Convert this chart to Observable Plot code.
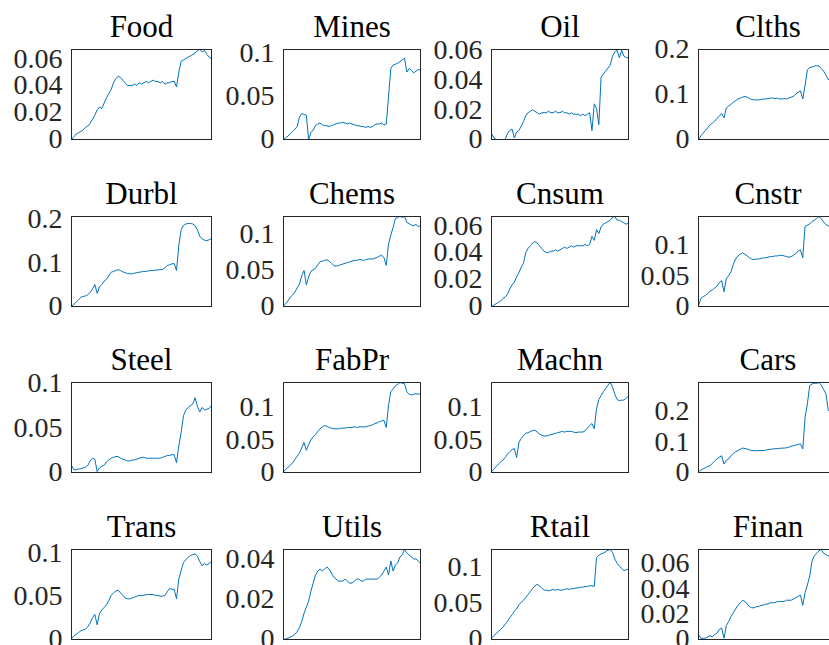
<!DOCTYPE html>
<html>
<head>
<meta charset="utf-8">
<script src="https://cdn.jsdelivr.net/npm/d3@7"></script>
<script src="https://cdn.jsdelivr.net/npm/@observablehq/plot@0.6"></script>
<style>
  html, body { margin: 0; padding: 0; background: #fff; }
  body { width: 829px; height: 645px; overflow: hidden; position: relative; }
  #fig { position: absolute; left: 0; top: 0; width: 900px; height: 700px; }
  .panel { position: absolute; }
  .panel svg { overflow: visible; max-width: none !important; display: block; }
</style>
</head>
<body>
<div id="fig"></div>
<script>
const industries = ["Food","Mines","Oil","Clths","Durbl","Chems","Cnsum","Cnstr","Steel","FabPr","Machn","Cars","Trans","Utils","Rtail","Finan"];

const food  = [0,0.002,0.004,0.005,0.006,0.007,0.009,0.010,0.012,0.015,0.018,0.022,0.024,0.023,0.027,0.031,0.034,0.037,0.042,0.045,0.047,0.046,0.044,0.042,0.040,0.040,0.040,0.041,0.040,0.042,0.041,0.042,0.043,0.042,0.043,0.044,0.043,0.043,0.042,0.043,0.041,0.042,0.042,0.043,0.043,0.039,0.050,0.058,0.059,0.060,0.061,0.062,0.063,0.064,0.066,0.0667,0.065,0.066,0.063,0.061,0.060];
const mines = [0,0.002,0.004,0.007,0.009,0.012,0.015,0.026,0.030,0.029,0.028,0.000,0.008,0.011,0.016,0.018,0.019,0.017,0.016,0.016,0.015,0.016,0.017,0.018,0.019,0.019,0.020,0.019,0.018,0.019,0.018,0.017,0.016,0.016,0.015,0.015,0.014,0.015,0.014,0.015,0.017,0.018,0.018,0.019,0.017,0.018,0.050,0.082,0.086,0.087,0.088,0.090,0.092,0.094,0.078,0.082,0.080,0.077,0.079,0.081,0.080];
const oil   = [0.004,0.001,0.000,0.000,0.000,0.000,0.000,0.004,0.006,0.007,0.001,0.005,0.006,0.009,0.012,0.016,0.018,0.019,0.020,0.019,0.018,0.017,0.018,0.018,0.018,0.019,0.018,0.018,0.019,0.018,0.018,0.019,0.018,0.018,0.017,0.018,0.017,0.017,0.017,0.016,0.017,0.016,0.017,0.018,0.006,0.024,0.021,0.010,0.042,0.044,0.046,0.048,0.050,0.056,0.059,0.060,0.055,0.060,0.056,0.055,0.055];
const clths = [0,0.008,0.014,0.020,0.026,0.033,0.036,0.041,0.047,0.052,0.058,0.048,0.070,0.074,0.078,0.083,0.086,0.090,0.092,0.094,0.096,0.094,0.091,0.089,0.088,0.088,0.088,0.089,0.090,0.090,0.091,0.092,0.092,0.091,0.092,0.090,0.090,0.091,0.090,0.092,0.094,0.096,0.101,0.105,0.108,0.090,0.120,0.155,0.160,0.161,0.163,0.164,0.163,0.158,0.152,0.143,0.133,0.138,0.135,0.132,0.130];
const durbl = [0,0.005,0.010,0.015,0.021,0.023,0.024,0.027,0.032,0.040,0.050,0.030,0.045,0.050,0.058,0.062,0.070,0.078,0.080,0.082,0.084,0.082,0.079,0.077,0.075,0.075,0.074,0.076,0.077,0.078,0.079,0.080,0.080,0.081,0.082,0.082,0.083,0.083,0.084,0.084,0.088,0.093,0.095,0.097,0.098,0.082,0.140,0.175,0.185,0.188,0.189,0.189,0.188,0.184,0.174,0.160,0.154,0.151,0.150,0.152,0.155];
const chems = [0.001,0.004,0.008,0.013,0.016,0.020,0.026,0.031,0.043,0.050,0.030,0.041,0.049,0.051,0.053,0.058,0.062,0.063,0.064,0.065,0.063,0.060,0.057,0.056,0.057,0.058,0.059,0.060,0.061,0.062,0.063,0.064,0.064,0.065,0.065,0.064,0.065,0.066,0.066,0.066,0.067,0.068,0.070,0.071,0.068,0.057,0.087,0.099,0.110,0.122,0.124,0.125,0.124,0.125,0.117,0.115,0.113,0.112,0.114,0.111,0.112];
const cnsum = [0,0.001,0.002,0.003,0.004,0.006,0.007,0.009,0.013,0.016,0.018,0.022,0.025,0.029,0.032,0.040,0.043,0.045,0.047,0.048,0.047,0.045,0.043,0.041,0.040,0.040,0.041,0.041,0.042,0.041,0.042,0.043,0.044,0.043,0.044,0.045,0.044,0.045,0.045,0.045,0.045,0.046,0.045,0.046,0.052,0.049,0.057,0.054,0.059,0.061,0.062,0.063,0.064,0.066,0.0667,0.064,0.064,0.063,0.062,0.061,0.062];
const cnstr = [0.001,0.013,0.016,0.018,0.021,0.025,0.027,0.030,0.033,0.039,0.042,0.024,0.045,0.050,0.056,0.068,0.077,0.082,0.085,0.087,0.085,0.082,0.079,0.077,0.076,0.077,0.077,0.078,0.079,0.079,0.080,0.081,0.081,0.082,0.082,0.083,0.083,0.082,0.081,0.080,0.081,0.083,0.086,0.090,0.092,0.079,0.130,0.132,0.134,0.138,0.140,0.143,0.146,0.142,0.137,0.133,0.131,0.130,0.128,0.129,0.127];
const steel = [0.008,0.003,0.003,0.004,0.004,0.005,0.006,0.008,0.013,0.016,0.015,0.001,0.005,0.007,0.008,0.012,0.014,0.016,0.017,0.018,0.018,0.016,0.015,0.014,0.013,0.013,0.014,0.014,0.015,0.016,0.017,0.017,0.016,0.016,0.016,0.016,0.016,0.016,0.016,0.017,0.018,0.019,0.019,0.020,0.020,0.011,0.030,0.045,0.064,0.070,0.073,0.075,0.077,0.084,0.074,0.068,0.073,0.070,0.071,0.072,0.075];
const fabpr = [0.001,0.005,0.008,0.011,0.015,0.020,0.025,0.030,0.038,0.046,0.034,0.043,0.050,0.055,0.058,0.063,0.067,0.070,0.072,0.071,0.069,0.068,0.067,0.067,0.067,0.068,0.068,0.068,0.069,0.069,0.069,0.070,0.069,0.070,0.070,0.070,0.070,0.071,0.072,0.073,0.075,0.076,0.078,0.079,0.080,0.069,0.103,0.124,0.128,0.133,0.135,0.138,0.137,0.136,0.124,0.120,0.119,0.120,0.121,0.120,0.121];
const machn = [0.001,0.005,0.009,0.013,0.016,0.019,0.023,0.028,0.032,0.035,0.037,0.023,0.046,0.052,0.057,0.060,0.061,0.063,0.064,0.065,0.062,0.059,0.057,0.056,0.056,0.057,0.058,0.059,0.060,0.061,0.062,0.063,0.062,0.063,0.063,0.063,0.062,0.061,0.062,0.062,0.062,0.064,0.068,0.072,0.075,0.067,0.098,0.112,0.118,0.124,0.129,0.134,0.138,0.131,0.120,0.112,0.110,0.111,0.111,0.114,0.117];
const cars  = [0.002,0.008,0.012,0.016,0.020,0.022,0.030,0.038,0.045,0.050,0.055,0.028,0.040,0.044,0.055,0.062,0.068,0.072,0.076,0.080,0.079,0.077,0.074,0.072,0.072,0.071,0.072,0.072,0.072,0.073,0.075,0.076,0.077,0.078,0.078,0.079,0.080,0.080,0.081,0.083,0.086,0.088,0.090,0.092,0.094,0.077,0.180,0.225,0.285,0.290,0.293,0.292,0.295,0.287,0.272,0.258,0.205,0.195,0.190,0.192,0.195];
const trans = [0.001,0.004,0.006,0.008,0.010,0.011,0.012,0.015,0.019,0.025,0.029,0.017,0.030,0.034,0.037,0.040,0.045,0.051,0.054,0.056,0.057,0.054,0.051,0.048,0.047,0.047,0.048,0.049,0.050,0.051,0.051,0.051,0.052,0.052,0.052,0.052,0.051,0.051,0.050,0.050,0.051,0.055,0.059,0.058,0.058,0.047,0.070,0.080,0.089,0.092,0.095,0.097,0.098,0.099,0.096,0.090,0.085,0.088,0.086,0.088,0.090];
const utils = [0.000,0.0003,0.0007,0.0012,0.0018,0.0025,0.004,0.006,0.009,0.013,0.016,0.019,0.024,0.028,0.032,0.034,0.035,0.034,0.035,0.036,0.035,0.033,0.031,0.030,0.029,0.029,0.029,0.030,0.029,0.028,0.028,0.029,0.030,0.030,0.029,0.029,0.030,0.030,0.030,0.030,0.030,0.030,0.031,0.032,0.034,0.036,0.032,0.039,0.034,0.037,0.038,0.041,0.042,0.0447,0.043,0.042,0.041,0.040,0.040,0.039,0.038];
const rtail = [0.002,0.005,0.008,0.011,0.014,0.017,0.021,0.025,0.030,0.034,0.039,0.042,0.048,0.051,0.054,0.058,0.062,0.066,0.070,0.074,0.076,0.074,0.071,0.068,0.068,0.067,0.068,0.069,0.068,0.069,0.068,0.068,0.069,0.070,0.069,0.070,0.070,0.071,0.071,0.072,0.072,0.073,0.073,0.074,0.074,0.073,0.113,0.116,0.118,0.119,0.121,0.123,0.124,0.120,0.111,0.105,0.101,0.098,0.095,0.096,0.097];
const finan = [0.004,0.001,0.001,0.001,0.002,0.003,0.002,0.004,0.005,0.008,0.009,0.001,0.011,0.014,0.018,0.021,0.024,0.027,0.029,0.031,0.030,0.028,0.026,0.025,0.025,0.026,0.026,0.027,0.027,0.028,0.028,0.029,0.029,0.029,0.030,0.030,0.030,0.030,0.031,0.031,0.031,0.032,0.033,0.034,0.035,0.027,0.037,0.043,0.050,0.062,0.066,0.068,0.070,0.071,0.068,0.067,0.066,0.066,0.065,0.066,0.067];

const seriesList = [food, mines, oil, clths, durbl, chems, cnsum, cnstr, steel, fabpr, machn, cars, trans, utils, rtail, finan];

// y-axis upper limits and tick values per panel
const yMax = [0.0667, 0.104, 0.0605, 0.2, 0.205, 0.125, 0.0667, 0.146, 0.101, 0.138, 0.138, 0.295, 0.104, 0.0447, 0.124, 0.071];
const ticks2 = [0, 0.02, 0.04, 0.06];
const ticks5 = [0, 0.05, 0.1];
const ticks1 = [0, 0.1, 0.2];
const ticks24 = [0, 0.02, 0.04];
const yTicks = [ticks2, ticks5, ticks2, ticks1, ticks1, ticks5, ticks2, ticks5, ticks5, ticks5, ticks5, ticks1, ticks5, ticks24, ticks5, ticks2];

// layout
const boxLefts = [71, 283, 491, 698];
const boxWidths = [140, 137, 137, 139];
const boxTops = [49, 216, 382, 549];
const boxH = 90;
const mL = 75, mT = 49, mB = 30;
const serif = "'Liberation Serif', 'Times New Roman', serif";

const fig = document.getElementById("fig");
industries.forEach((name, k) => {
  const r = Math.floor(k / 4), c = k % 4;
  const data = seriesList[k];
  const W = mL + boxWidths[c], H = mT + boxH + mB;
  const chart = Plot.plot({
    width: W,
    height: H,
    marginLeft: mL, marginRight: 0, marginTop: mT, marginBottom: mB,
    style: {fontFamily: serif, fontSize: "28px", color: "#262626", background: "transparent", overflow: "visible"},
    x: {domain: [0, data.length - 1], axis: null},
    y: {domain: [0, yMax[k]], axis: null},
    marks: [
      Plot.lineY(data, {x: (d, i) => i, y: d => d, stroke: "#0072BD", strokeWidth: 1}),
      Plot.frame({stroke: "#262626", strokeWidth: 1}),
      Plot.axisY({ticks: yTicks[k], tickSize: 0, tickPadding: 9, tickFormat: d => String(d), fontSize: 28, fill: "#262626"}),
      Plot.text([name], {frameAnchor: "top", dy: -13, lineAnchor: "bottom", fontSize: 31, fill: "#000", fontFamily: serif})
    ]
  });
  chart.style.maxWidth = "none";
  chart.style.width = W + "px";
  chart.style.height = H + "px";
  const div = document.createElement("div");
  div.className = "panel";
  div.style.left = (boxLefts[c] - mL) + "px";
  div.style.top = (boxTops[r] - mT) + "px";
  div.style.width = W + "px";
  div.style.height = H + "px";
  div.appendChild(chart);
  fig.appendChild(div);
});
</script>
</body>
</html>
